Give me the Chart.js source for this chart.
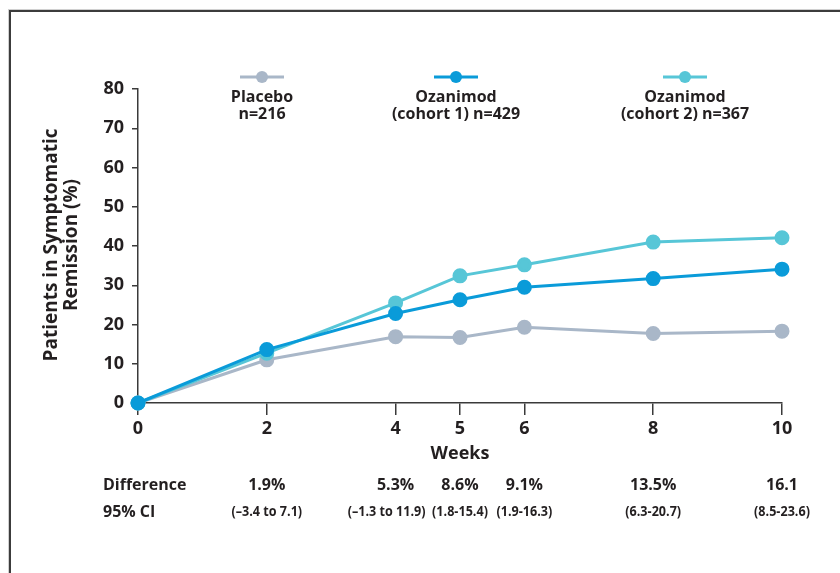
<!DOCTYPE html>
<html>
<head>
<meta charset="utf-8">
<style>
  html, body { margin: 0; padding: 0; background: #ffffff; }
  #wrap { width: 840px; height: 573px; position: relative; }
</style>
<script src="https://cdn.jsdelivr.net/npm/chart.js@4/dist/chart.umd.min.js"></script>
</head>
<body>
<div id="wrap"><canvas id="c" width="840" height="573"></canvas></div>
<script>
// Study weeks and percentage of patients in symptomatic remission
const weeks = [0, 2, 4, 5, 6, 8, 10];
const placebo = [0, 11.0, 16.9, 16.7, 19.3, 17.7, 18.3];
const cohort1 = [0, 13.6, 22.8, 26.3, 29.5, 31.7, 34.1];
const cohort2 = [0, 12.7, 25.5, 32.4, 35.2, 41.0, 42.1];

const seriesNames = [['Placebo', 'n=216'], ['Ozanimod', '(cohort 1) n=429'], ['Ozanimod', '(cohort 2) n=367']];
const seriesColors = ['#a9b7c8', '#0a9bd9', '#57c6d7'];
const legendCentres = [262, 456, 685];

// Treatment differences shown under the axis
const tableWeeks = [2, 4, 5, 6, 8, 10];
const differences = ['1.9%', '5.3%', '8.6%', '9.1%', '13.5%', '16.1'];
const confIntervals = ['(\u20133.4 to 7.1)', '(\u20131.3 to 11.9)', '(1.8-15.4)', '(1.9-16.3)', '(6.3-20.7)', '(8.5-23.6)'];

const yTitle = ['Patients in Symptomatic', 'Remission (%)'];
const xTitle = 'Weeks';

const FONT = '"Open Sans", "DejaVu Sans", sans-serif';
const INK = '#231f20';
const AXIS = '#3a3a3a';

const toPoints = vals => vals.map((v, i) => ({ x: weeks[i], y: v }));

function makeSet(idx, vals, order) {
  return {
    label: seriesNames[idx].join(' '),
    data: toPoints(vals),
    borderColor: seriesColors[idx],
    backgroundColor: seriesColors[idx],
    pointBackgroundColor: seriesColors[idx],
    pointBorderColor: seriesColors[idx],
    borderWidth: 3,
    pointRadius: 6,
    pointHoverRadius: 6,
    tension: 0,
    clip: false,
    order: order
  };
}

// text squeezed horizontally, for the narrow confidence-interval row
function narrowText(ctx, text, x, y, squeeze) {
  ctx.save();
  ctx.translate(x, y);
  ctx.scale(squeeze, 1);
  ctx.fillText(text, 0, 0);
  ctx.restore();
}

const decorations = {
  id: 'decorations',
  afterDraw(chart) {
    const ctx = chart.ctx;
    const xs = chart.scales.x;
    const area = chart.chartArea;
    ctx.save();

    // outer frame
    ctx.strokeStyle = '#d0d0d0';
    ctx.lineWidth = 1;
    ctx.strokeRect(8.5, 9.5, 900, 700);
    ctx.strokeStyle = '#3c3c3c';
    ctx.lineWidth = 2;
    ctx.strokeRect(10, 11, 900, 700);

    // legend: marker line with dot above a two-line label
    chart.data.datasets.forEach((ds, i) => {
      const cx = legendCentres[i];
      ctx.strokeStyle = seriesColors[i];
      ctx.lineWidth = 3;
      ctx.beginPath();
      ctx.moveTo(cx - 22, 77);
      ctx.lineTo(cx + 22, 77);
      ctx.stroke();
      ctx.fillStyle = seriesColors[i];
      ctx.beginPath();
      ctx.arc(cx, 77, 6, 0, Math.PI * 2);
      ctx.fill();
      ctx.fillStyle = INK;
      ctx.font = 'bold 16px ' + FONT;
      ctx.textAlign = 'center';
      ctx.textBaseline = 'middle';
      ctx.fillText(seriesNames[i][0], cx, 97);
      ctx.fillText(seriesNames[i][1], cx, 114);
    });

    // y-axis title
    ctx.save();
    ctx.translate(62, 245);
    ctx.rotate(-Math.PI / 2);
    ctx.fillStyle = INK;
    ctx.font = 'bold 19px ' + FONT;
    ctx.textAlign = 'center';
    ctx.textBaseline = 'middle';
    ctx.fillText(yTitle[0], 0, -10);
    ctx.fillText(yTitle[1], 0, 10);
    ctx.restore();

    // x-axis title
    ctx.fillStyle = INK;
    ctx.font = 'bold 18px ' + FONT;
    ctx.textAlign = 'center';
    ctx.textBaseline = 'middle';
    ctx.fillText(xTitle, (area.left + area.right) / 2, 454);

    // difference table
    ctx.textAlign = 'left';
    ctx.font = 'bold 16px ' + FONT;
    ctx.fillText('Difference', 103, 485);
    ctx.fillText('95% CI', 103, 512);
    ctx.textAlign = 'center';
    tableWeeks.forEach((w, i) => {
      const px = xs.getPixelForValue(w);
      ctx.font = 'bold 16px ' + FONT;
      ctx.fillText(differences[i], px, 485);
      ctx.font = 'bold 15px ' + FONT;
      narrowText(ctx, confIntervals[i], w === 4 ? px - 9 : px, 512, 0.84);
    });
    ctx.restore();
  }
};

new Chart(document.getElementById('c'), {
  type: 'line',
  data: {
    datasets: [
      makeSet(0, placebo, 3),
      makeSet(1, cohort1, 1),
      makeSet(2, cohort2, 2)
    ]
  },
  options: {
    responsive: false,
    devicePixelRatio: 1,
    animation: false,
    events: [],
    layout: { padding: { left: 0, top: 89, right: 58, bottom: 0 } },
    plugins: { legend: { display: false }, tooltip: { enabled: false } },
    scales: {
      x: {
        type: 'linear',
        min: 0,
        max: 10,
        afterBuildTicks: s => { s.ticks = weeks.map(v => ({ value: v })); },
        afterFit: s => { s.height = 170; },
        grid: { drawOnChartArea: false, drawTicks: true, tickLength: 12, color: AXIS, lineWidth: 1.5 },
        border: { color: AXIS, width: 1.5 },
        ticks: { padding: 3, autoSkip: false, maxRotation: 0, color: INK, font: { family: FONT, size: 18, weight: 'bold' } }
      },
      y: {
        min: 0,
        max: 80,
        afterFit: s => { s.width = 138; },
        grid: { drawOnChartArea: false, drawTicks: true, tickLength: 6, color: AXIS, lineWidth: 1.5 },
        border: { color: AXIS, width: 1.5 },
        ticks: { stepSize: 10, padding: 8, color: INK, font: { family: FONT, size: 18, weight: 'bold' } }
      }
    }
  },
  plugins: [decorations]
});
</script>
</body>
</html>
